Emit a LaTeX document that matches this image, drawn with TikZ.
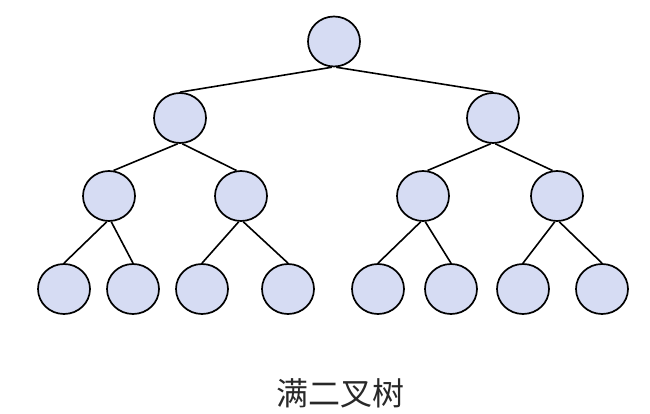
\documentclass[tikz,border=0pt]{standalone}
\usepackage{fontspec}
\newfontfamily\cjk{Noto Sans CJK SC}
\definecolor{nodefill}{RGB}{214,220,243}
\definecolor{txt}{RGB}{40,40,40}
\begin{document}
\begin{tikzpicture}[x=1pt,y=-1pt,
  tnode/.style={ellipse, draw=black, line width=1.7pt, fill=nodefill, minimum width=52pt, minimum height=50pt, inner sep=0pt},
  edge/.style={draw=black, line width=1.6pt}]
\usetikzlibrary{shapes.geometric}
\useasboundingbox (0,0) rectangle (650,414);
\node[tnode] (r) at (334,41.5) {};
\node[tnode] (a) at (180,118) {};
\node[tnode] (b) at (493,118) {};
\node[tnode] (aa) at (109,196) {};
\node[tnode] (ab) at (241,196) {};
\node[tnode] (ba) at (423,196) {};
\node[tnode] (bb) at (557,196) {};
\node[tnode] (l1) at (64,289) {};
\node[tnode] (l2) at (133,289) {};
\node[tnode] (l3) at (202,289) {};
\node[tnode] (l4) at (288,289) {};
\node[tnode] (l5) at (378,289) {};
\node[tnode] (l6) at (451,289) {};
\node[tnode] (l7) at (523,289) {};
\node[tnode] (l8) at (602,289) {};
\draw[edge] (r.-95) -- (a.north);
\draw[edge] (r.-85) -- (b.north);
\draw[edge] (a.-95) -- (aa.80);
\draw[edge] (a.-85) -- (ab.100);
\draw[edge] (b.-95) -- (ba.80);
\draw[edge] (b.-85) -- (bb.100);
\draw[edge] (aa.-95) -- (l1.north);
\draw[edge] (aa.-85) -- (l2.north);
\draw[edge] (ab.-95) -- (l3.north);
\draw[edge] (ab.-85) -- (l4.north);
\draw[edge] (ba.-95) -- (l5.north);
\draw[edge] (ba.-85) -- (l6.north);
\draw[edge] (bb.-95) -- (l7.north);
\draw[edge] (bb.-85) -- (l8.north);
\node[text=txt, font=\cjk\fontsize{32}{38}\selectfont, inner sep=0pt] (title) at (340,393) {满二叉树};
\end{tikzpicture}
\end{document}
